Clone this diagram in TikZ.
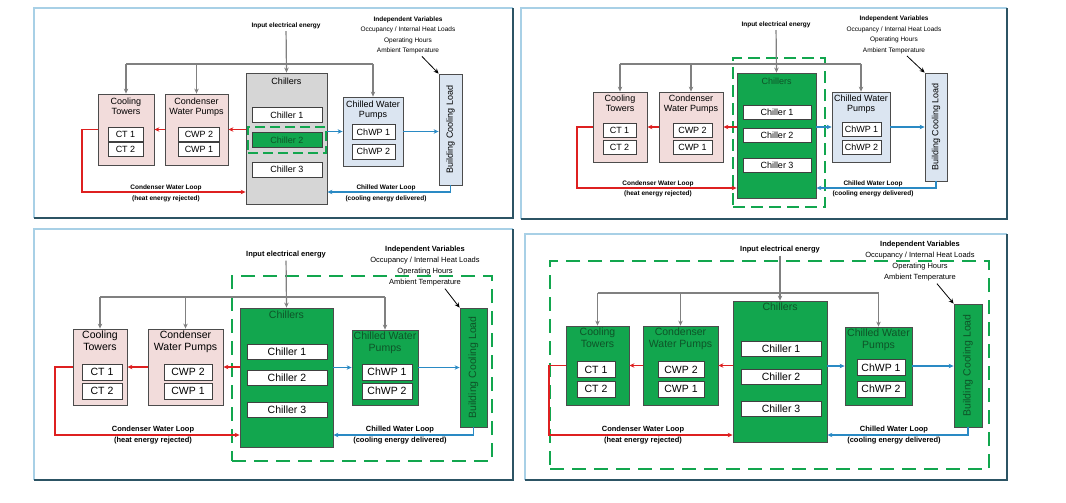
\documentclass[tikz,border=0pt]{standalone}
\usepackage{fontspec}
\setmainfont{Liberation Sans}
\usetikzlibrary{positioning,shadows,arrows.meta}

\definecolor{towerpink}{RGB}{242,220,219}
\definecolor{pumpblue}{RGB}{219,229,241}
\definecolor{plantgrey}{RGB}{214,214,214}
\definecolor{boxgreen}{RGB}{18,166,78}
\definecolor{textgreen}{RGB}{14,84,40}
\definecolor{hotred}{RGB}{222,32,32}
\definecolor{coolblue}{RGB}{42,138,196}
\definecolor{edgelight}{RGB}{168,208,230}
\definecolor{edgedark}{RGB}{44,84,100}

\tikzset{
  unit/.style={draw=black!70,line width=0.8pt,inner sep=0pt,drop shadow={opacity=0.25,shadow xshift=1.2pt,shadow yshift=-1.2pt}},
  cell/.style={draw=black!75,fill=white,line width=0.7pt,inner sep=0pt,font=\fontsize{\tfs}{\tls}\selectfont},
  title/.style={inner sep=0pt,align=center,font=\fontsize{\tfs}{\tls}\selectfont},
  note/.style={inner sep=0pt,align=center,font=\bfseries\fontsize{\nfs}{\nls}\selectfont},
  indep/.style={inner sep=0pt,align=center,font=\fontsize{\nfs}{\nls}\selectfont},
  wire/.style={draw=black!50,line width=1.2pt},
  feed/.style={draw=black!50,line width=1.2pt,->},
  hot/.style={draw=hotred,line width=1.2pt,->},
  cool/.style={draw=coolblue,line width=1.2pt,->},
  hint/.style={draw=black,line width=0.8pt,->},
  zone/.style={draw=boxgreen,line width=2.2pt,dash pattern=#1,inner sep=0pt}
}

\begin{document}
\begin{tikzpicture}[x=1pt,y=-1pt,>={Stealth[length=5pt,width=4.5pt]}]
  \useasboundingbox (0,0) rectangle (1066,503);

  % Panel 1: one chiller
  \begin{scope}
    \def\tfs{9}\def\tls{10.5}\def\nfs{6.5}\def\nls{10.5}
    \draw[edgelight,line width=1.2pt] (34,218) |- (513,8);
    \draw[edgedark,line width=1.5pt] (513,8) |- (34,218);

    \node[note] (Ain) at (286,26) {Input electrical energy};
    \node[indep] (Aiv) at (408,35.5) {\textbf{Independent Variables}\\Occupancy / Internal Heat Loads\\Operating Hours\\Ambient Temperature};

    \node[unit,fill=plantgrey,minimum width=81,minimum height=131] (Ach) at (286.5,138.5) {};
    \node[title,below=5pt of Ach.north] (Acht) {Chillers};
    \node[cell,minimum width=70,minimum height=15] (Ac1) at (287,115) {Chiller 1};
    \node[cell,fill=boxgreen,text=textgreen,minimum width=70,minimum height=15] (Ac2) at (287,140) {Chiller 2};
    \node[cell,minimum width=70,minimum height=15] (Ac3) at (287,169.5) {Chiller 3};
    \node[zone={on 10pt off 5pt},minimum width=78,minimum height=26] (Az) at (Ac2) {};

    \node[unit,fill=towerpink,minimum width=56,minimum height=71] (Act) at (126,129.5) {};
    \node[title,below=4pt of Act.north] (Actt) {Cooling\\Towers};
    \node[cell,minimum width=35,minimum height=14] (Act1) at (125.5,134) {CT 1};
    \node[cell,minimum width=35,minimum height=14] (Act2) at (125.5,149.5) {CT 2};

    \node[unit,fill=towerpink,minimum width=63,minimum height=71] (Acwp) at (196.5,129.5) {};
    \node[title,below=4pt of Acwp.north] (Acwpt) {Condenser\\Water Pumps};
    \node[cell,minimum width=41,minimum height=14] (Acwp2) at (199,134) {CWP 2};
    \node[cell,minimum width=41,minimum height=14] (Acwp1) at (199,149.5) {CWP 1};

    \node[unit,fill=pumpblue,minimum width=60,minimum height=69] (Achwp) at (373,131.5) {};
    \node[title,below=4pt of Achwp.north] (Achwpt) {Chilled Water\\Pumps};
    \node[cell,minimum width=43,minimum height=15] (Achwp1) at (373.5,132) {ChWP 1};
    \node[cell,minimum width=43,minimum height=15] (Achwp2) at (373.5,151.5) {ChWP 2};

    \node[unit,fill=pumpblue,minimum width=23,minimum height=111] (Aload) at (450.5,129.5) {};
    \node[title,rotate=90] (Aloadt) at (Aload) {Building Cooling Load};

    \node[note] (Acl) at (166,193.5) {Condenser Water Loop\\(heat energy rejected)};
    \node[note] (Awl) at (386,193.5) {Chilled Water Loop\\(cooling energy delivered)};

    % Arrows
    \coordinate (Abus) at (0,64);
    \coordinate (Aret) at (82,192);
    \draw[feed,shorten <=2pt] (Ain) -- (Ach.north);
    \draw[wire] (Abus -| Act) -- (Abus -| Achwp);
    \draw[feed] (Abus -| Act) -- (Act.north);
    \draw[feed] (Abus -| Acwp) -- (Acwp.north);
    \draw[feed] (Abus -| Achwp) -- (Achwp.north);
    \draw[hot] (Acwp.east -| Ach.west) -- (Acwp.east);
    \draw[hot] (Acwp.west) -- (Act.east);
    \draw[hot] (Act.west) -| (Aret) -- (Aret -| Ach.west);
    \draw[cool] (Achwp.west -| Ach.east) -- (Achwp.west);
    \draw[cool] (Achwp.east) -- (Achwp.east -| Aload.west);
    \draw[cool] (Aload.south) |- (Aret -| Ach.east);
    \draw[hint] ([xshift=14pt,yshift=-2pt]Aiv.south) -- (Aload.north west);
  \end{scope}

  % Panel 2: chiller plant
  \begin{scope}
    \def\tfs{9}\def\tls{10.5}\def\nfs{6.5}\def\nls{10.5}
    \draw[edgelight,line width=1.2pt] (521,219) |- (1007,8);
    \draw[edgedark,line width=1.5pt] (1007,8) |- (521,219);

    \node[note] (Bin) at (776,25) {Input electrical energy};
    \node[indep] (Biv) at (894,35) {\textbf{Independent Variables}\\Occupancy / Internal Heat Loads\\Operating Hours\\Ambient Temperature};

    \node[unit,fill=boxgreen,minimum width=79,minimum height=125] (Bch) at (776.5,135.5) {};
    \node[title,text=textgreen,below=5pt of Bch.north] (Bcht) {Chillers};
    \node[cell,minimum width=68,minimum height=14] (Bc1) at (777,112) {Chiller 1};
    \node[cell,minimum width=68,minimum height=14] (Bc2) at (777,135.5) {Chiller 2};
    \node[cell,minimum width=68,minimum height=14] (Bc3) at (777,165) {Chiller 3};
    \node[zone={on 12pt off 6pt},minimum width=92,minimum height=149] (Bz) at (779,132.5) {};

    \node[unit,fill=towerpink,minimum width=54,minimum height=70] (Bct) at (620,127) {};
    \node[title,below=3pt of Bct.north] (Bctt) {Cooling\\Towers};
    \node[cell,minimum width=33,minimum height=14] (Bct1) at (619.5,130.5) {CT 1};
    \node[cell,minimum width=33,minimum height=14] (Bct2) at (619.5,147) {CT 2};

    \node[unit,fill=towerpink,minimum width=64,minimum height=70] (Bcwp) at (691,127) {};
    \node[title,below=3pt of Bcwp.north] (Bcwpt) {Condenser\\Water Pumps};
    \node[cell,minimum width=39,minimum height=14] (Bcwp2) at (692.5,130.5) {CWP 2};
    \node[cell,minimum width=39,minimum height=14] (Bcwp1) at (692.5,147) {CWP 1};

    \node[unit,fill=pumpblue,minimum width=58,minimum height=70] (Bchwp) at (861,127) {};
    \node[title,below=3pt of Bchwp.north] (Bchwpt) {Chilled Water\\Pumps};
    \node[cell,minimum width=39,minimum height=14] (Bchwp1) at (861.5,129.5) {ChWP 1};
    \node[cell,minimum width=39,minimum height=14] (Bchwp2) at (861.5,147) {ChWP 2};

    \node[unit,fill=pumpblue,minimum width=22,minimum height=108] (Bload) at (936,127) {};
    \node[title,rotate=90] (Bloadt) at (Bload) {Building Cooling Load};

    \node[note] (Bcl) at (658,189) {Condenser Water Loop\\(heat energy rejected)};
    \node[note] (Bwl) at (873,189) {Chilled Water Loop\\(cooling energy delivered)};

    % Arrows
    \coordinate (Bbus) at (0,64);
    \coordinate (Bret) at (577,188);
    \draw[feed,shorten <=2pt] (Bin) -- (Bch.north);
    \draw[wire] (Bbus -| Bct) -- (Bbus -| Bchwp);
    \draw[feed] (Bbus -| Bct) -- (Bct.north);
    \draw[feed] (Bbus -| Bcwp) -- (Bcwp.north);
    \draw[feed] (Bbus -| Bchwp) -- (Bchwp.north);
    \draw[hot] (Bcwp.east -| Bch.west) -- (Bcwp.east);
    \draw[hot] (Bcwp.west) -- (Bct.east);
    \draw[hot] (Bct.west) -| (Bret) -- (Bret -| Bch.west);
    \draw[cool] (Bchwp.west -| Bch.east) -- (Bchwp.west);
    \draw[cool] (Bchwp.east) -- (Bchwp.east -| Bload.west);
    \draw[cool] (Bload.south) |- (Bret -| Bch.east);
    \draw[hint] ([xshift=13pt,yshift=-2pt]Biv.south) -- (Bload.north west);
  \end{scope}

  % Panel 3: chillers, chilled water pumps and load
  \begin{scope}
    \def\tfs{10.5}\def\tls{12}\def\nfs{7.5}\def\nls{11}
    \draw[edgelight,line width=1.2pt] (34,480) |- (513,229);
    \draw[edgedark,line width=1.5pt] (513,229) |- (34,480);

    \node[note] (Cin) at (286,255) {Input electrical energy};
    \node[indep] (Civ) at (425,266.5) {\textbf{Independent Variables}\\Occupancy / Internal Heat Loads\\Operating Hours\\Ambient Temperature};

    \node[zone={on 14pt off 8pt},minimum width=260,minimum height=185] (Cz) at (362,368.5) {};

    \node[unit,fill=boxgreen,minimum width=93,minimum height=139] (Cch) at (286.5,377.5) {};
    \node[title,text=textgreen,below=3pt of Cch.north] (Ccht) {Chillers};
    \node[cell,minimum width=80,minimum height=15] (Cc1) at (287,351.5) {Chiller 1};
    \node[cell,minimum width=80,minimum height=15] (Cc2) at (287,378) {Chiller 2};
    \node[cell,minimum width=80,minimum height=15] (Cc3) at (287,409.5) {Chiller 3};

    \node[unit,fill=towerpink,minimum width=54,minimum height=76] (Cct) at (100,367) {};
    \node[title,below=2pt of Cct.north] (Cctt) {Cooling\\Towers};
    \node[cell,minimum width=40,minimum height=16] (Cct1) at (102,372) {CT 1};
    \node[cell,minimum width=40,minimum height=16] (Cct2) at (102,391) {CT 2};

    \node[unit,fill=towerpink,minimum width=75,minimum height=76] (Ccwp) at (185.5,367) {};
    \node[title,below=2pt of Ccwp.north] (Ccwpt) {Condenser\\Water Pumps};
    \node[cell,minimum width=48,minimum height=16] (Ccwp2) at (188,372) {CWP 2};
    \node[cell,minimum width=48,minimum height=16] (Ccwp1) at (188,391) {CWP 1};

    \node[unit,fill=boxgreen,minimum width=66,minimum height=75] (Cchwp) at (385,367.5) {};
    \node[title,text=textgreen,below=2pt of Cchwp.north] (Cchwpt) {Chilled Water\\Pumps};
    \node[cell,minimum width=50,minimum height=16] (Cchwp1) at (387,372) {ChWP 1};
    \node[cell,minimum width=50,minimum height=16] (Cchwp2) at (387,391) {ChWP 2};

    \node[unit,fill=boxgreen,minimum width=27,minimum height=119] (Cload) at (473.5,367.5) {};
    \node[title,text=textgreen,rotate=90] (Cloadt) at (Cload) {Building Cooling Load};

    \node[note] (Ccl) at (153,435.5) {Condenser Water Loop\\(heat energy rejected)};
    \node[note] (Cwl) at (400,435.5) {Chilled Water Loop\\(cooling energy delivered)};

    % Arrows
    \coordinate (Cbus) at (0,297);
    \coordinate (Cret) at (55,435);
    \draw[feed,shorten <=2pt] (Cin) -- (Cch.north);
    \draw[wire] (Cbus -| Cct) -- (Cbus -| Cchwp);
    \draw[feed] (Cbus -| Cct) -- (Cct.north);
    \draw[feed] (Cbus -| Ccwp) -- (Ccwp.north);
    \draw[feed] (Cbus -| Cchwp) -- (Cchwp.north);
    \draw[hot] (Ccwp.east -| Cch.west) -- (Ccwp.east);
    \draw[hot] (Ccwp.west) -- (Cct.east);
    \draw[hot] (Cct.west) -| (Cret) -- (Cret -| Cch.west);
    \draw[cool] (Cchwp.west -| Cch.east) -- (Cchwp.west);
    \draw[cool] (Cchwp.east) -- (Cchwp.east -| Cload.west);
    \draw[cool] (Cload.south) |- (Cret -| Cch.east);
    \draw[hint] ([xshift=20pt,yshift=-2pt]Civ.south) -- (Cload.north west);
  \end{scope}

  % Panel 4: whole plant
  \begin{scope}
    \def\tfs{10.5}\def\tls{12}\def\nfs{7.5}\def\nls{11}
    \draw[edgelight,line width=1.2pt] (525,480) |- (1007,234);
    \draw[edgedark,line width=1.5pt] (1007,234) |- (525,480);

    \node[note] (Din) at (780,250) {Input electrical energy};
    \node[indep] (Div) at (920,261.5) {\textbf{Independent Variables}\\Occupancy / Internal Heat Loads\\Operating Hours\\Ambient Temperature};

    \node[zone={on 14pt off 8pt},minimum width=439,minimum height=208] (Dz) at (769.5,365) {};

    \node[unit,fill=boxgreen,minimum width=94,minimum height=141] (Dch) at (780,371.5) {};
    \node[title,text=textgreen,below=2pt of Dch.north] (Dcht) {Chillers};
    \node[cell,minimum width=80,minimum height=15] (Dc1) at (781,348.5) {Chiller 1};
    \node[cell,minimum width=80,minimum height=15] (Dc2) at (781,376.5) {Chiller 2};
    \node[cell,minimum width=80,minimum height=15] (Dc3) at (781,409) {Chiller 3};

    \node[unit,fill=boxgreen,minimum width=63,minimum height=79] (Dct) at (597.5,365.5) {};
    \node[title,text=textgreen,below=2pt of Dct.north] (Dctt) {Cooling\\Towers};
    \node[cell,minimum width=38,minimum height=16] (Dct1) at (596,369.5) {CT 1};
    \node[cell,minimum width=38,minimum height=16] (Dct2) at (596,389) {CT 2};

    \node[unit,fill=boxgreen,minimum width=75,minimum height=79] (Dcwp) at (680.5,365.5) {};
    \node[title,text=textgreen,below=2pt of Dcwp.north] (Dcwpt) {Condenser\\Water Pumps};
    \node[cell,minimum width=46,minimum height=16] (Dcwp2) at (681,369.5) {CWP 2};
    \node[cell,minimum width=46,minimum height=16] (Dcwp1) at (681,389) {CWP 1};

    \node[unit,fill=boxgreen,minimum width=67,minimum height=78] (Dchwp) at (878.5,366) {};
    \node[title,text=textgreen,below=2pt of Dchwp.north] (Dchwpt) {Chilled Water\\Pumps};
    \node[cell,minimum width=48,minimum height=16] (Dchwp1) at (881,367.5) {ChWP 1};
    \node[cell,minimum width=48,minimum height=16] (Dchwp2) at (881,389) {ChWP 2};

    \node[unit,fill=boxgreen,minimum width=28,minimum height=123] (Dload) at (968,365.5) {};
    \node[title,text=textgreen,rotate=90] (Dloadt) at (Dload) {Building Cooling Load};

    \node[note] (Dcl) at (643,435.5) {Condenser Water Loop\\(heat energy rejected)};
    \node[note] (Dwl) at (894,435.5) {Chilled Water Loop\\(cooling energy delivered)};

    % Arrows
    \coordinate (Dbus) at (0,293);
    \coordinate (Dret) at (549,435);
    \draw[feed,shorten <=2pt] (Din) -- (Dch.north);
    \draw[wire] (Dbus -| Dct) -- (Dbus -| Dchwp);
    \draw[feed] (Dbus -| Dct) -- (Dct.north);
    \draw[feed] (Dbus -| Dcwp) -- (Dcwp.north);
    \draw[feed] (Dbus -| Dchwp) -- (Dchwp.north);
    \draw[hot] (Dcwp.east -| Dch.west) -- (Dcwp.east);
    \draw[hot] (Dcwp.west) -- (Dct.east);
    \draw[hot] (Dct.west) -| (Dret) -- (Dret -| Dch.west);
    \draw[cool] (Dchwp.west -| Dch.east) -- (Dchwp.west);
    \draw[cool] (Dchwp.east) -- (Dchwp.east -| Dload.west);
    \draw[cool] (Dload.south) |- (Dret -| Dch.east);
    \draw[hint] ([xshift=17pt,yshift=-2pt]Div.south) -- (Dload.north west);
  \end{scope}
\end{tikzpicture}
\end{document}
